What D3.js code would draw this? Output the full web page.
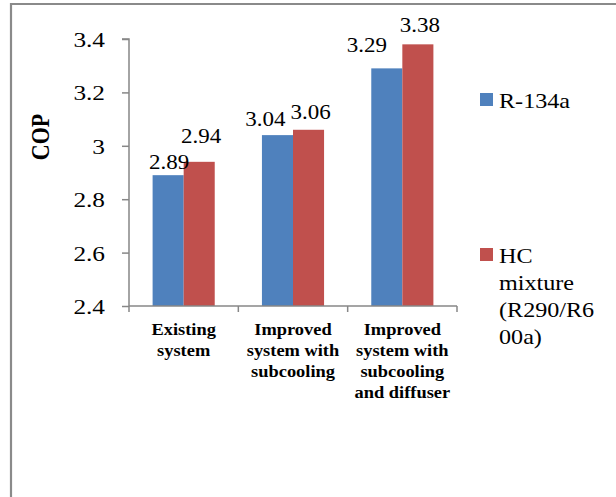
<!DOCTYPE html>
<html>
<head>
<meta charset="utf-8">
<script src="https://cdn.jsdelivr.net/npm/d3@7"></script>
<style>
  html, body { margin: 0; padding: 0; background: #fff; }
  svg { display: block; }
  text { font-family: "Liberation Serif", "Times New Roman", serif; fill: #000; }
</style>
</head>
<body>
<svg id="chart" width="616" height="497"></svg>
<script>
// ---- data ----
const categories = [
  ["Existing", "system"],
  ["Improved", "system with", "subcooling"],
  ["Improved", "system with", "subcooling", "and diffuser"]
];
const seriesNames = ["R-134a", "HC mixture (R290/R600a)"];
const legendLines = [["R-134a"], ["HC", "mixture", "(R290/R6", "00a)"]];
const r134a = [2.89, 3.04, 3.29];
const hcMix = [2.94, 3.06, 3.38];
const yTicks = [2.4, 2.6, 2.8, 3.0, 3.2, 3.4];
const yTickLabels = ["2.4", "2.6", "2.8", "3", "3.2", "3.4"];

// ---- layout / style ----
const colors = ["#4F81BD", "#C0504D"];
const SX = 1.15; // horizontal glyph stretch seen in the reference
const labelNudge = [
  [[1, -6], [-12, -9], [-20, -16]],
  [[2, -19], [2, -11], [2, -12]]
];

const svg = d3.select("#chart");
const plotL = 129, plotR = 457, plotT = 39, plotB = 306;

function stext(g, x, y, str, size, opts = {}) {
  return g.append("text")
    .attr("transform", `translate(${x},${y}) scale(${SX},1)` + (opts.rotate ? ` rotate(${opts.rotate})` : ""))
    .attr("text-anchor", opts.anchor || "middle")
    .attr("font-size", size)
    .attr("font-weight", opts.bold ? "bold" : "normal")
    .text(str);
}

// outer frame (partially visible)
svg.append("path")
  .attr("d", `M11,497 L11,4 L616,4`)
  .attr("fill", "none").attr("stroke", "#8a8a8a").attr("stroke-width", 2.2);

const y = d3.scaleLinear().domain([2.4, 3.4]).range([plotB, plotT]);
const x0 = d3.scaleBand().domain(d3.range(categories.length)).range([plotL, plotR]).padding(0);
const x1 = d3.scaleBand().domain([0, 1]).range([0, x0.bandwidth()]).paddingInner(0).paddingOuter(0.76);

const series = [r134a, hcMix];

// bars
series.forEach((vals, si) => {
  svg.append("g").selectAll("rect").data(vals).join("rect")
    .attr("x", (d, i) => x0(i) + x1(si))
    .attr("y", d => y(d))
    .attr("width", x1.bandwidth())
    .attr("height", d => y(2.4) - y(d))
    .attr("fill", colors[si]);
});

// y axis
const axisColor = "#878787";
const yAxis = svg.append("g").attr("transform", `translate(${plotL},0)`)
  .call(d3.axisLeft(y).tickValues(yTicks).tickSize(7).tickFormat(() => ""));
yAxis.select(".domain").attr("stroke", axisColor).attr("stroke-width", 1.5).attr("d", `M-7,${plotT}H0V${plotB}`);
yAxis.selectAll(".tick line").attr("stroke", axisColor).attr("stroke-width", 1.5);
yAxis.selectAll(".tick text").remove();
yTicks.forEach((t, i) => {
  stext(svg, 105, y(t) + 8, yTickLabels[i], 22, { anchor: "end" });
});

// x axis
const xAxisG = svg.append("g");
xAxisG.append("line").attr("x1", plotL).attr("x2", plotR).attr("y1", plotB).attr("y2", plotB)
  .attr("stroke", axisColor).attr("stroke-width", 1.5);
const bounds = d3.range(categories.length).map(i => x0(i)).concat([plotR]);
xAxisG.selectAll("line.tk").data(bounds).join("line").attr("class", "tk")
  .attr("x1", d => d).attr("x2", d => d).attr("y1", plotB).attr("y2", plotB + 6)
  .attr("stroke", axisColor).attr("stroke-width", 1.5);

// category labels
categories.forEach((lines, i) => {
  const cx = x0(i) + x0.bandwidth() / 2;
  lines.forEach((ln, k) => {
    stext(svg, cx, 335 + k * 21, ln, 16, { bold: true });
  });
});

// data labels
series.forEach((vals, si) => {
  vals.forEach((v, i) => {
    const cx = x0(i) + x1(si) + x1.bandwidth() / 2 + labelNudge[si][i][0];
    const cy = y(v) + labelNudge[si][i][1];
    stext(svg, cx, cy, v.toFixed(2), 20);
  });
});

// y title
stext(svg, 49, 137, "COP", 22, { bold: true, rotate: -90 });

// legend
const legendY = [93, 248];
legendLines.forEach((lines, si) => {
  svg.append("rect").attr("x", 480).attr("y", legendY[si]).attr("width", 13).attr("height", 13)
    .attr("fill", colors[si]);
  lines.forEach((ln, k) => {
    stext(svg, 499, legendY[si] + 15 + k * 27, ln, 21, { anchor: "start" });
  });
});
</script>
</body>
</html>
